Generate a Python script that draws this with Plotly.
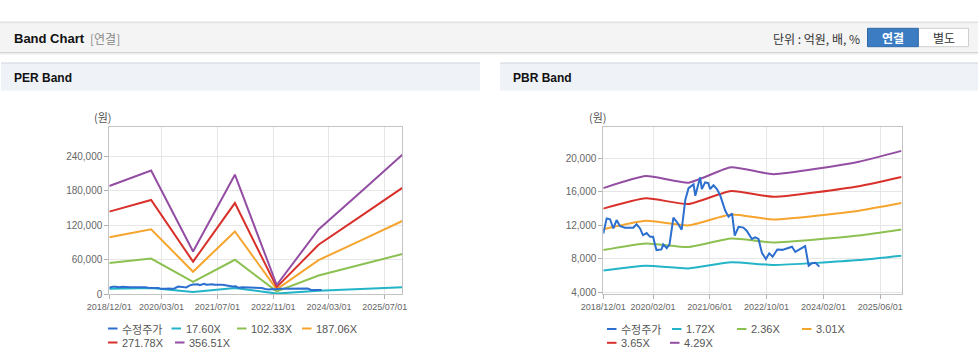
import plotly.graph_objects as go

W, H = 978, 361

# ---------------- data ----------------
per_dates = ["2018-12-01", "2019-12-01", "2020-12-01", "2021-12-01",
             "2022-12-01", "2023-12-01", "2024-12-01", "2025-12-01"]
per_17_60 = [9275, 10595, 3643, 10243, 774, 5544, 8747, 11950]
per_102_33 = [53928, 61603, 21182, 59556, 4503, 32234, 50858, 69482]
per_187_06 = [98581, 112610, 38721, 108869, 8231, 58924, 92969, 127014]
per_271_78 = [143228, 163612, 56258, 158176, 11958, 85611, 135075, 184539]
per_356_51 = [187881, 214619, 73798, 207489, 15686, 112301, 177185, 242070]

pbr_dates = ["2018-12-01", "2019-12-01", "2020-12-01", "2021-12-01",
             "2022-12-01", "2024-12-01", "2025-12-01"]
pbr_1_72 = [6581, 7157, 6840, 7573, 7245, 7841, 8359]
pbr_2_36 = [9029, 9820, 9386, 10391, 9940, 10759, 11470]
pbr_3_01 = [11516, 12525, 11971, 13253, 12678, 13723, 14629]
pbr_3_65 = [13965, 15188, 14516, 16071, 15374, 16640, 17739]
pbr_4_29 = [16414, 17851, 17061, 18889, 18069, 19558, 20849]

price_dates = [
    "2018-12-01", "2018-12-30", "2019-01-28", "2019-02-25", "2019-03-25", "2019-04-22",
    "2019-06-04", "2019-08-15", "2019-09-12", "2019-10-12", "2019-11-06", "2019-12-08",
    "2020-01-06", "2020-02-01", "2020-02-15", "2020-03-01", "2020-04-13", "2020-04-28",
    "2020-05-28", "2020-06-21", "2020-07-24", "2020-08-22", "2020-10-03", "2020-11-03",
    "2020-12-01", "2021-01-13", "2021-01-28", "2021-02-16", "2021-03-10", "2021-03-25",
    "2021-04-22", "2021-05-19", "2021-06-04", "2021-07-03", "2021-08-01", "2021-08-28",
    "2021-10-12", "2021-11-09", "2021-12-09", "2022-01-01", "2022-02-03", "2022-03-16",
    "2022-04-15", "2022-05-28", "2022-06-25", "2022-07-24", "2022-08-22", "2022-09-25",
    "2022-10-24", "2022-11-22", "2023-01-01", "2023-02-13", "2023-03-25", "2023-05-07",
    "2023-06-04", "2023-07-16", "2023-08-28", "2023-09-27", "2023-10-25", "2023-11-24",
    "2023-12-28"]
price_values = [
    11000, 12800, 12700, 11600, 12600, 11900,
    11700, 11700, 12100, 11600, 10800, 11050,
    10600, 10600, 9800, 9030, 9100, 9700,
    9250, 9700, 12900, 12400, 11450, 15000,
    16400, 16850, 15500, 16600, 17700, 16300,
    17100, 17000, 16300, 16750, 16300, 15600,
    13700, 13000, 13400, 10750, 11800, 11700,
    11300, 10350, 10550, 10350, 8700, 7950,
    8640, 8240, 9100, 9050, 9240, 9430,
    8800, 9100, 9500, 7150, 7450, 7500,
    7050]

per_xticks = ["2018-12-01", "2020-03-01", "2021-07-01", "2022-11-01", "2024-03-01", "2025-07-01"]
per_xlabels = ["2018/12/01", "2020/03/01", "2021/07/01", "2022/11/01", "2024/03/01", "2025/07/01"]
pbr_xticks = ["2018-12-01", "2020-02-01", "2021-06-01", "2022-10-01", "2024-02-01", "2025-06-01"]
pbr_xlabels = ["2018/12/01", "2020/02/01", "2021/06/01", "2022/10/01", "2024/02/01", "2025/06/01"]
per_yticks = [0, 60000, 120000, 180000, 240000]
pbr_yticks = [4000, 8000, 12000, 16000, 20000]

per_names = ["수정주가", "17.60X", "102.33X", "187.06X", "271.78X", "356.51X"]
pbr_names = ["수정주가", "1.72X", "2.36X", "3.01X", "3.65X", "4.29X"]

C_PRICE = "#2c6fcf"
C_BAND = ["#23b4c7", "#8cc152", "#f5a52e", "#d8312b", "#934da3"]

FONT = "Liberation Sans, Arial, Noto Sans CJK KR, sans-serif"
KFONT = "Noto Sans CJK KR, Liberation Sans, sans-serif"


def px(x):
    return x / W


def py(y):
    return 1 - y / H


fig = go.Figure()

# PER traces
for vals, col in zip([per_17_60, per_102_33, per_187_06, per_271_78, per_356_51], C_BAND):
    fig.add_trace(go.Scatter(x=per_dates, y=vals, mode="lines", line=dict(color=col, width=2),
                             xaxis="x", yaxis="y", showlegend=False, hoverinfo="skip"))
fig.add_trace(go.Scatter(x=price_dates, y=price_values, mode="lines", line=dict(color=C_PRICE, width=2),
                         xaxis="x", yaxis="y", showlegend=False, hoverinfo="skip"))

# PBR traces
for vals, col in zip([pbr_1_72, pbr_2_36, pbr_3_01, pbr_3_65, pbr_4_29], C_BAND):
    fig.add_trace(go.Scatter(x=pbr_dates, y=vals, mode="lines",
                             line=dict(color=col, width=2, shape="spline", smoothing=0.5),
                             xaxis="x2", yaxis="y2", showlegend=False, hoverinfo="skip"))
fig.add_trace(go.Scatter(x=price_dates, y=price_values, mode="lines", line=dict(color=C_PRICE, width=2),
                         xaxis="x2", yaxis="y2", showlegend=False, hoverinfo="skip"))

axis_common = dict(showgrid=True, gridcolor="#e6e6e6", gridwidth=1, showline=True,
                   linecolor="#c4c4c4", linewidth=1, mirror=True, ticks="outside",
                   ticklen=4, tickcolor="#b0b0b0", zeroline=False, fixedrange=True,
                   automargin=False)

fig.update_layout(
    template="none",
    width=W, height=H, margin=dict(l=0, r=0, t=0, b=0, pad=0), autosize=False,
    paper_bgcolor="white", plot_bgcolor="white",
    font=dict(family=FONT, color="#555"),
    xaxis=dict(domain=[px(109.3), px(402.3)], anchor="y", type="date",
               range=["2018-12-01", "2025-12-01"], tickvals=per_xticks, ticktext=per_xlabels,
               tickfont=dict(size=9, color="#666", family=FONT), **axis_common),
    yaxis=dict(domain=[py(294), py(126.7)], anchor="x", range=[0, 291000],
               tickvals=per_yticks, tickformat=",", tickfont=dict(size=10, color="#666", family=FONT),
               **axis_common),
    xaxis2=dict(domain=[px(603.3), px(901.5)], anchor="y2", type="date",
                range=["2018-12-01", "2025-12-01"], tickvals=pbr_xticks, ticktext=pbr_xlabels,
                tickfont=dict(size=9, color="#666", family=FONT), **axis_common),
    yaxis2=dict(domain=[py(294), py(126.7)], anchor="x2", range=[3790, 23730],
                tickvals=pbr_yticks, tickformat=",", tickfont=dict(size=10, color="#666", family=FONT),
                **axis_common),
)

shapes = []
ann = []

# top header bar
shapes.append(dict(type="rect", xref="paper", yref="paper", x0=px(0), x1=px(978), y0=py(21.5), y1=py(23.5),
                   fillcolor="#e2e2e2", line=dict(width=0), layer="below"))
shapes.append(dict(type="rect", xref="paper", yref="paper", x0=px(0), x1=px(978), y0=py(23.5), y1=py(52),
                   fillcolor="#f4f4f4", line=dict(width=0), layer="below"))
shapes.append(dict(type="rect", xref="paper", yref="paper", x0=px(0), x1=px(978), y0=py(52), y1=py(53.2),
                   fillcolor="#d2d2d2", line=dict(width=0), layer="below"))
shapes.append(dict(type="rect", xref="paper", yref="paper", x0=px(0), x1=px(978), y0=py(53.2), y1=py(54.5),
                   fillcolor="#ececec", line=dict(width=0), layer="below"))
ann.append(dict(text="<b>Band Chart</b>", x=px(11.5), y=py(38.3), xref="paper", yref="paper",
                xanchor="left", yanchor="middle", showarrow=False,
                font=dict(size=13, color="#111", family=FONT)))
ann.append(dict(text="[연결]", x=px(88), y=py(38.5), xref="paper", yref="paper",
                xanchor="left", yanchor="middle", showarrow=False,
                font=dict(size=12, color="#8a8a8a", family=KFONT)))
ann.append(dict(text="단위 : 억원, 배, %", x=px(862), y=py(38.3), xref="paper", yref="paper",
                xanchor="right", yanchor="middle", showarrow=False,
                font=dict(size=12, color="#333", family=KFONT)))
# buttons
shapes.append(dict(type="rect", xref="paper", yref="paper", x0=px(918.3), x1=px(968.5), y0=py(46.7), y1=py(28.3),
                   fillcolor="white", line=dict(color="#cfcfcf", width=1)))
shapes.append(dict(type="rect", xref="paper", yref="paper", x0=px(867.5), x1=px(918.3), y0=py(46.7), y1=py(28.3),
                   fillcolor="#3b7cc3", line=dict(color="#2f69a8", width=1)))
ann.append(dict(text="<b>연결</b>", x=px(893), y=py(37.8), xref="paper", yref="paper",
                xanchor="center", yanchor="middle", showarrow=False,
                font=dict(size=12, color="white", family=KFONT)))
ann.append(dict(text="별도", x=px(943.5), y=py(37.8), xref="paper", yref="paper",
                xanchor="center", yanchor="middle", showarrow=False,
                font=dict(size=12, color="#333", family=KFONT)))

# panel headers
for x0, x1, title in [(1, 480, "PER Band"), (500, 978, "PBR Band")]:
    shapes.append(dict(type="rect", xref="paper", yref="paper", x0=px(x0), x1=px(x1), y0=py(62.3), y1=py(64.3),
                       fillcolor="#dfe3e9", line=dict(width=0), layer="below"))
    shapes.append(dict(type="rect", xref="paper", yref="paper", x0=px(x0), x1=px(x1), y0=py(64.3), y1=py(90.7),
                       fillcolor="#eff2f7", line=dict(width=0), layer="below"))
    ann.append(dict(text="<b>" + title + "</b>", x=px(x0 + 10.7), y=py(78.3), xref="paper", yref="paper",
                    xanchor="left", yanchor="middle", showarrow=False,
                    font=dict(size=12, color="#111", family=FONT)))

# unit labels
for xc in [103, 598]:
    ann.append(dict(text="(원)", x=px(xc), y=py(117), xref="paper", yref="paper",
                    xanchor="center", yanchor="middle", showarrow=False,
                    font=dict(size=11, color="#555", family=KFONT)))

# legends
colors = [C_PRICE] + C_BAND


def legend(names, row1_x, row2_x, y1, y2):
    pos = [(row1_x[i], y1) for i in range(4)] + [(row2_x[0], y2), (row2_x[1], y2)]
    for (lx, ly), name, col in zip(pos, names, colors):
        shapes.append(dict(type="line", xref="paper", yref="paper", x0=px(lx), x1=px(lx + 9.5),
                           y0=py(ly), y1=py(ly), line=dict(color=col, width=2)))
        fam = KFONT if name == "수정주가" else FONT
        ann.append(dict(text=name, x=px(lx + 12), y=py(ly), xref="paper", yref="paper",
                        xanchor="left", yanchor="middle", showarrow=False,
                        font=dict(size=11, color="#555", family=fam)))


legend(per_names, [108, 171.5, 237, 302], [108, 175], 328.5, 342.5)
legend(pbr_names, [607, 672, 737, 802], [607, 670], 329, 342.8)

fig.update_layout(shapes=shapes, annotations=ann)
fig.write_html("out.html", config={"displayModeBar": False},
               post_script="document.body.style.margin='0';document.body.style.overflow='hidden';")
